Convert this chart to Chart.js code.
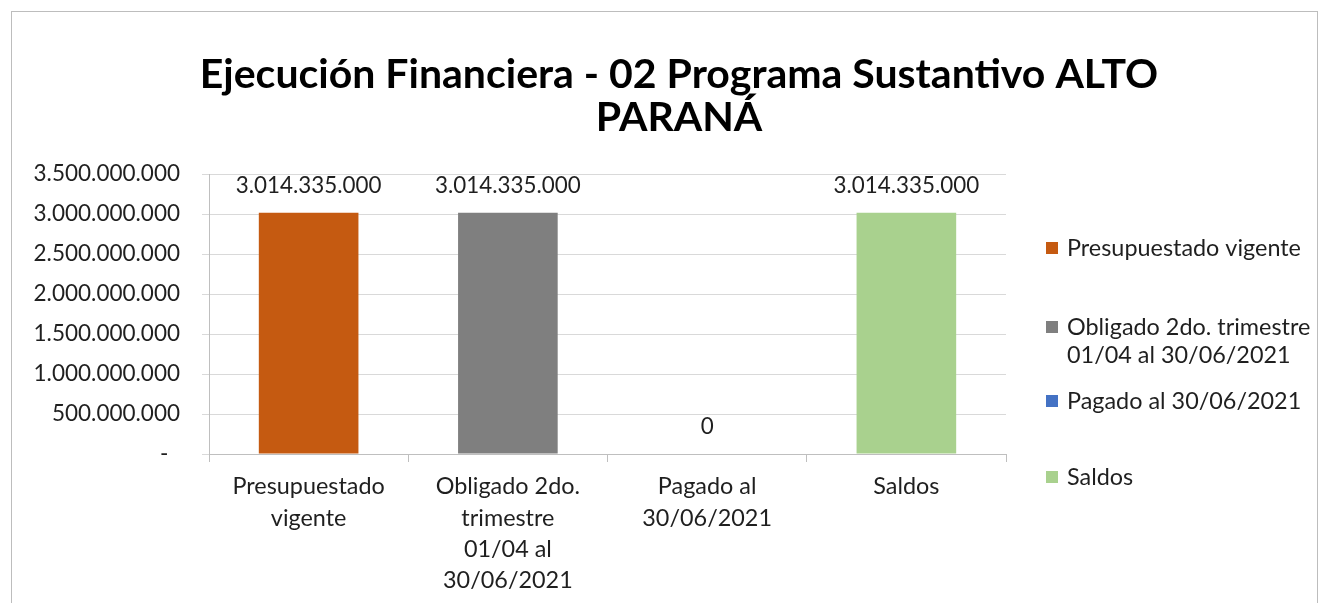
<!DOCTYPE html>
<html><head><meta charset="utf-8">
<script src="https://cdn.jsdelivr.net/npm/chart.js@4"></script>
<style>html,body{margin:0;padding:0;background:#fff}canvas{display:block}</style>
</head><body>
<canvas id="c" width="1320" height="603"></canvas>
<script>
const titleLines = ['Ejecución Financiera - 02 Programa Sustantivo ALTO', 'PARANÁ'];
const categories = [['Presupuestado','vigente'], ['Obligado 2do.','trimestre','01/04 al','30/06/2021'], ['Pagado al','30/06/2021'], ['Saldos']];
const legendLabels = [['Presupuestado vigente'], ['Obligado 2do. trimestre','01/04 al 30/06/2021'], ['Pagado al 30/06/2021'], ['Saldos']];
const values = [3014335000, 3014335000, 0, 3014335000];
const colors = ['#C55A11', '#7F7F7F', '#4472C4', '#A9D18E'];
const yMin = 0, yMax = 3500000000, yStep = 500000000;

const FONT = 'Lato';
const TEXT = '#1f1f1f';
const fmt = n => Math.round(n).toString().replace(/\B(?=(\d{3})+(?!\d))/g, '.');

const framePlugin = {
  id: 'frame',
  beforeDraw(chart) {
    const ctx = chart.ctx;
    ctx.save();
    ctx.fillStyle = '#fff';
    ctx.fillRect(0, 0, chart.width, chart.height);
    ctx.strokeStyle = '#BDBDBD';
    ctx.lineWidth = 1;
    ctx.strokeRect(11.5, 11.5, 1306, 640);
    ctx.restore();
  }
};

const titlePlugin = {
  id: 'ttl',
  afterDraw(chart) {
    const ctx = chart.ctx;
    ctx.save();
    ctx.font = `bold 41px ${FONT}`;
    ctx.fillStyle = '#000';
    ctx.textAlign = 'center';
    ctx.textBaseline = 'middle';
    titleLines.forEach((t, i) => ctx.fillText(t, 679, 75 + i * 43));
    ctx.restore();
  }
};

const labelPlugin = {
  id: 'vals',
  afterDatasetsDraw(chart) {
    const ctx = chart.ctx;
    const meta = chart.getDatasetMeta(0);
    ctx.save();
    ctx.font = `22.4px ${FONT}`;
    ctx.fillStyle = TEXT;
    ctx.textAlign = 'center';
    ctx.textBaseline = 'middle';
    meta.data.forEach((bar, i) => {
      ctx.fillText(fmt(values[i]), bar.x, bar.y - 27);
    });
    ctx.restore();
  }
};

const legendRowsY = [[248], [327, 355], [401], [477]];
const legendPlugin = {
  id: 'lgd',
  afterDraw(chart) {
    const ctx = chart.ctx;
    ctx.save();
    ctx.font = `23.4px ${FONT}`;
    ctx.textAlign = 'left';
    ctx.textBaseline = 'middle';
    legendLabels.forEach((lines, i) => {
      const ys = legendRowsY[i];
      ctx.fillStyle = colors[i];
      ctx.fillRect(1046, ys[0] - 6, 12, 12);
      ctx.fillStyle = TEXT;
      lines.forEach((t, j) => ctx.fillText(t, 1067, ys[j]));
    });
    ctx.restore();
  }
};

new Chart(document.getElementById('c'), {
  type: 'bar',
  data: {
    labels: categories,
    datasets: [{
      data: values,
      backgroundColor: colors,
      barPercentage: 0.5,
      categoryPercentage: 1.0
    }]
  },
  options: {
    responsive: false,
    animation: false,
    layout: { padding: { top: 174, right: 314, left: 0, bottom: 0 } },
    plugins: { legend: { display: false }, title: { display: false }, tooltip: { enabled: false } },
    scales: {
      x: {
        afterFit(s) { s.height = 149; },
        grid: { drawOnChartArea: false, drawTicks: true, tickLength: 8, color: '#BFBFBF', offset: true },
        border: { display: true, color: '#BFBFBF' },
        ticks: { font: { family: FONT, size: 23.4, lineHeight: 1.34 }, color: TEXT, padding: 9, maxRotation: 0, autoSkip: false }
      },
      y: {
        min: yMin, max: yMax,
        afterFit(s) { s.width = 209; },
        grid: { color: '#D9D9D9', tickLength: 7, drawTicks: true },
        border: { display: true, color: '#BFBFBF' },
        ticks: {
          stepSize: yStep,
          font: { family: FONT, size: 22.5 }, color: TEXT, padding: 22,
          callback: v => v === 0 ? '-  ' : fmt(v)
        }
      }
    }
  },
  plugins: [framePlugin, titlePlugin, labelPlugin, legendPlugin]
});
</script>
</body></html>
